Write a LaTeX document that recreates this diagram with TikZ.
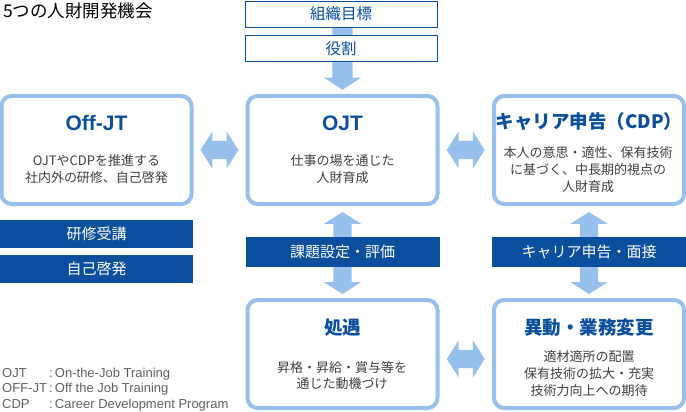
\documentclass[tikz,border=0pt]{standalone}
\usepackage{fontspec}
\setmainfont{Noto Sans CJK JP}
\newfontfamily\legendfont{Liberation Sans}
\usetikzlibrary{shapes,arrows,calc,backgrounds}
\definecolor{paleblue}{RGB}{151,193,236}
\definecolor{deepblue}{RGB}{10,79,158}
\definecolor{bodygray}{RGB}{64,64,64}
\definecolor{notegray}{RGB}{96,96,96}
\tikzstyle{frame} = [rectangle, rounded corners=10pt, draw=paleblue, line width=4pt, fill=white, minimum width=190pt, minimum height=108pt]
\tikzstyle{goalbox} = [rectangle, draw=deepblue, line width=0.8pt, fill=white, text=deepblue, minimum width=192pt, minimum height=26pt, inner sep=0pt, font=\fontsize{15.5}{15.5}\selectfont]
\tikzstyle{bar} = [rectangle, fill=deepblue, text=white, minimum width=194pt, minimum height=30pt, inner sep=0pt, font=\fontsize{15}{15}\selectfont]
\tikzstyle{heading} = [text=deepblue, inner sep=0pt, font=\fontsize{18.5}{18.5}\selectfont\bfseries]
\tikzstyle{latinheading} = [heading, font=\legendfont\fontsize{21}{21}\selectfont\bfseries]
\tikzstyle{body} = [text=bodygray, align=center, inner sep=0pt, font=\fontsize{13}{17}\selectfont]
\tikzstyle{link} = [double arrow, fill=paleblue, inner xsep=0pt, inner ysep=9pt, double arrow head extend=9.5pt, double arrow tip angle=115]
\tikzstyle{feed} = [single arrow, fill=paleblue, inner xsep=0pt, inner ysep=10pt, single arrow head extend=8.5pt, single arrow tip angle=114]
\tikzstyle{note} = [text=notegray, inner sep=0pt, anchor=base west, font=\legendfont\fontsize{13}{13}\selectfont]

\begin{document}
\begin{tikzpicture}[x=1pt, y=-1pt, auto]
\useasboundingbox (0,0) rectangle (686,412);

\node [anchor=base west, inner sep=0pt, font=\fontsize{17.5}{17.5}\selectfont] (Caption) at (3,18) {5つの人財開発機会};

% top goals
\node [goalbox] (Goal) at (341,14) {組織目標};
\node [goalbox, below of=Goal, node distance=34.5pt] (Role) {役割};

% five boxes
\node [frame] (OJT) at (342.5,150) {};
\node [frame, left of=OJT, node distance=246pt] (OffJT) {};
\node [frame, right of=OJT, node distance=246.5pt] (CDP) {};
\node [frame, below of=OJT, node distance=204pt] (Shogu) {};
\node [frame, below of=CDP, node distance=204pt] (Ido) {};

\node [latinheading] (OffJTTitle) at (96.5,123) {Off-JT};
\node [body] (OffJTText) at (96.5,169) {OJTやCDPを推進する\\社内外の研修、自己啓発};
\node [latinheading] (OJTTitle) at (342.5,123) {OJT};
\node [body] (OJTText) at (342.5,169) {仕事の場を通じた\\人財育成};
\node [heading] (CDPTitle) at (589,122) {キャリア申告（CDP）};
\node [body] (CDPText) at (588,170) {本人の意思・適性、保有技術\\に基づく、中長期的視点の\\人財育成};
\node [heading] (ShoguTitle) at (342.5,328) {処遇};
\node [body, font=\fontsize{13}{16}\selectfont] (ShoguText) at (342,375.5) {昇格・昇給・賞与等を\\通じた動機づけ};
\node [heading] (IdoTitle) at (589,328) {異動・業務変更};
\node [body] (IdoText) at (589,373.5) {適材適所の配置\\保有技術の拡大・充実\\技術力向上への期待};

% bars
\node [bar, minimum width=193pt, minimum height=28pt] (Training) at (96.5,234) {研修受講};
\node [bar, minimum width=193pt, minimum height=28pt, below of=Training, node distance=35pt] (SelfDev) {自己啓発};
\node [bar] (TaskBar) at ($(OJT.south)!0.5!(Shogu.north)$) {課題設定・評価};
\node [bar] (CareerBar) at ($(CDP.south)!0.5!(Ido.north)$) {キャリア申告・面接};

% fat arrows
\begin{pgfonlayer}{background}
\node [feed, rotate=-90, anchor=tip, minimum height=78pt] (RoleArrow) at ($(OJT.north)+(0,-4)$) {};
\node [link, minimum height=38pt] (LinkA) at ($(OffJT.east)!0.5!(OJT.west)$) {};
\node [link, minimum height=38pt] (LinkB) at ($(OJT.east)!0.5!(CDP.west)$) {};
\node [link, minimum height=38pt] (LinkC) at ($(Shogu.east)!0.5!(Ido.west)+(0,5)$) {};
\node [link, rotate=90, minimum height=82pt] (LinkD) at ($(OJT.south)!0.5!(Shogu.north)+(0,1)$) {};
\node [link, rotate=90, minimum height=82pt] (LinkE) at ($(CDP.south)!0.5!(Ido.north)+(0,1)$) {};
\end{pgfonlayer}

% legend
\node [note] (KeyA) at (2,377) {OJT};
\node [note] (KeyAText) at (49,377) {:\,On-the-Job Training};
\node [note] (KeyB) at (2,392.5) {OFF-JT};
\node [note] (KeyBText) at (49,392.5) {:\,Off the Job Training};
\node [note] (KeyC) at (2,408) {CDP};
\node [note] (KeyCText) at (49,408) {:\,Career Development Program};

\end{tikzpicture}
\end{document}
